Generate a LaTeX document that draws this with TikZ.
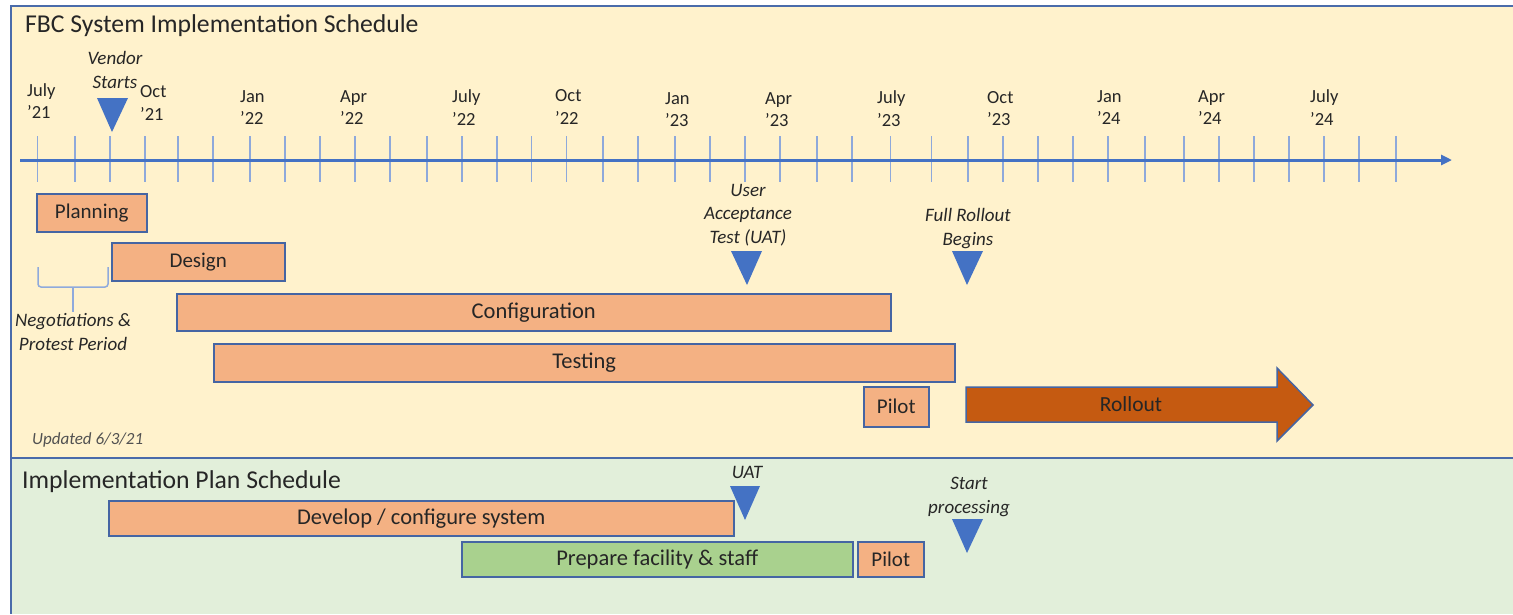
\documentclass[tikz,border=0pt]{standalone}
\usepackage{fontspec}
\setmainfont{Carlito}
\usetikzlibrary{arrows.meta}
\definecolor{cream}{HTML}{FFF2CC}
\definecolor{lgreen}{HTML}{E2EFDA}
\definecolor{pborder}{HTML}{4A6BAA}
\definecolor{barfill}{HTML}{F4B183}
\definecolor{barline}{HTML}{4565A3}
\definecolor{greenbar}{HTML}{A9D18E}
\definecolor{rollfill}{HTML}{C55A11}
\definecolor{axisblue}{HTML}{4472C4}
\definecolor{tickblue}{HTML}{8EA9DB}
\definecolor{txt}{HTML}{262626}
\definecolor{bracecol}{HTML}{8FAADC}
\begin{document}
\begin{tikzpicture}[x=1pt,y=-1pt,
  bar/.style={draw=barline, line width=1.5pt, fill=barfill, inner sep=0pt, anchor=north west, text=txt, font=\fontsize{21}{24}\selectfont},
  bigbar/.style={bar, font=\fontsize{22.5}{25}\selectfont},
  gbar/.style={bigbar, fill=greenbar},
  datelab/.style={anchor=west, align=left, inner sep=0pt, text=txt, font=\fontsize{18.5}{22.5}\selectfont},
  milab/.style={align=center, inner sep=0pt, text=txt, font=\fontsize{19}{23.5}\selectfont\itshape},
  titlelab/.style={anchor=west, inner sep=0pt, text=txt, font=\fontsize{25.7}{28}\selectfont},
  marker/.style={fill=axisblue},
  tickline/.style={draw=tickblue, line width=1.4pt},
  axisline/.style={draw=axisblue, line width=3pt, -{Triangle[length=11pt,width=10pt]}}
]
\useasboundingbox (0,0) rectangle (1513,614);
\fill[white] (0,0) rectangle (1513,614);
\fill[cream] (11,6) rectangle (1513,458);
\fill[lgreen] (11,458) rectangle (1513,614);
\draw[pborder, line width=2.2pt] (1513,6) -- (11,6) -- (11,614);
\draw[pborder, line width=2.2pt] (11,458) -- (1513,458);

% titles
\node[titlelab] (t1) at (25,26) {FBC System Implementation Schedule};
\node[titlelab] (t2) at (22,482) {Implementation Plan Schedule};

% axis
\foreach \x in {37.7,75,110,145,178,213,250,285,320,355,390,427,462,497,531.7,566.7,603,638,675,710,745,780,817,852,890.7,931.7,968,1003,1038,1073,1108,1145,1184,1219,1254,1289,1324,1359,1396}
  \draw[tickline] (\x,136) -- (\x,182);
\coordinate (axs) at (20,160);
\coordinate (axe) at (1452,160);
\draw[axisline] (axs) -- (axe);

% date labels
\node[datelab] (d1) at (27,101) {July\\’21};
\node[datelab] (d2) at (140,103) {Oct\\’21};
\node[datelab] (d3) at (240,107.5) {Jan\\’22};
\node[datelab] (d4) at (340,107.5) {Apr\\’22};
\node[datelab] (d5) at (452,107.5) {July\\’22};
\node[datelab] (d6) at (555,107) {Oct\\’22};
\node[datelab] (d7) at (665,109.5) {Jan\\’23};
\node[datelab] (d8) at (765,109.5) {Apr\\’23};
\node[datelab] (d9) at (877,108.5) {July\\’23};
\node[datelab] (d10) at (987,108.5) {Oct\\’23};
\node[datelab] (d11) at (1097,107.5) {Jan\\’24};
\node[datelab] (d12) at (1198,107.5) {Apr\\’24};
\node[datelab] (d13) at (1310,107.5) {July\\’24};

% milestones top
\fill[marker] (97,98) -- (128,98) -- (112,132) -- cycle;
\node[milab] (m1) at (115,70) {Vendor\\Starts};
\fill[marker] (731,251) -- (762,251) -- (747,285) -- cycle;
\node[milab] (m2) at (748,215) {User\\Acceptance\\Test (UAT)};
\fill[marker] (952,251) -- (983,251) -- (967,285) -- cycle;
\node[milab] (m3) at (968,228.5) {Full Rollout\\Begins};

% bars top
\node[bar, minimum width=110pt, minimum height=38pt] (plan) at (36,193) {Planning};
\node[bar, minimum width=173pt, minimum height=38pt] (design) at (111,242) {Design};
\node[bigbar, minimum width=714pt, minimum height=37pt] (config) at (176,293) {Configuration};
\node[bigbar, minimum width=741pt, minimum height=38pt] (test) at (213,343) {Testing};
\node[bar, minimum width=65pt, minimum height=40pt] (pilot1) at (863,386) {Pilot};
\draw[draw=barline, line width=1.5pt, fill=rollfill] (966,387) -- (1277,387) -- (1277,368) -- (1313,405) -- (1277,441) -- (1277,422) -- (966,422) -- cycle;
\node[text=txt, font=\fontsize{21.5}{24}\selectfont, inner sep=0pt] (roll) at (1131,404.5) {Rollout};

% brace
\draw[bracecol, line width=1.5pt, rounded corners=3pt] (38,267) -- (38,287) -- (108,287) -- (108,267);
\draw[bracecol, line width=1.5pt] (73,287) -- (73,312);
\node[milab] (neg) at (73,332) {Negotiations \&\\Protest Period};
\node[anchor=west, inner sep=0pt, text=txt!80, font=\fontsize{17}{19}\selectfont\itshape] (upd) at (32,440) {Updated 6/3/21};

% bottom panel
\node[bigbar, minimum width=625pt, minimum height=35pt] (dev) at (108,500) {Develop / configure system};
\node[gbar, minimum width=391pt, minimum height=35pt] (prep) at (461,541) {Prepare facility \& staff};
\node[bar, minimum width=66pt, minimum height=35pt] (pilot2) at (857,541) {Pilot};
\fill[marker] (730,486) -- (760,486) -- (745,520) -- cycle;
\node[milab] (uat) at (747,472) {UAT};
\fill[marker] (952,519) -- (983,519) -- (967,553) -- cycle;
\node[milab] (sp) at (969,497) {Start\\processing};
\end{tikzpicture}
\end{document}
